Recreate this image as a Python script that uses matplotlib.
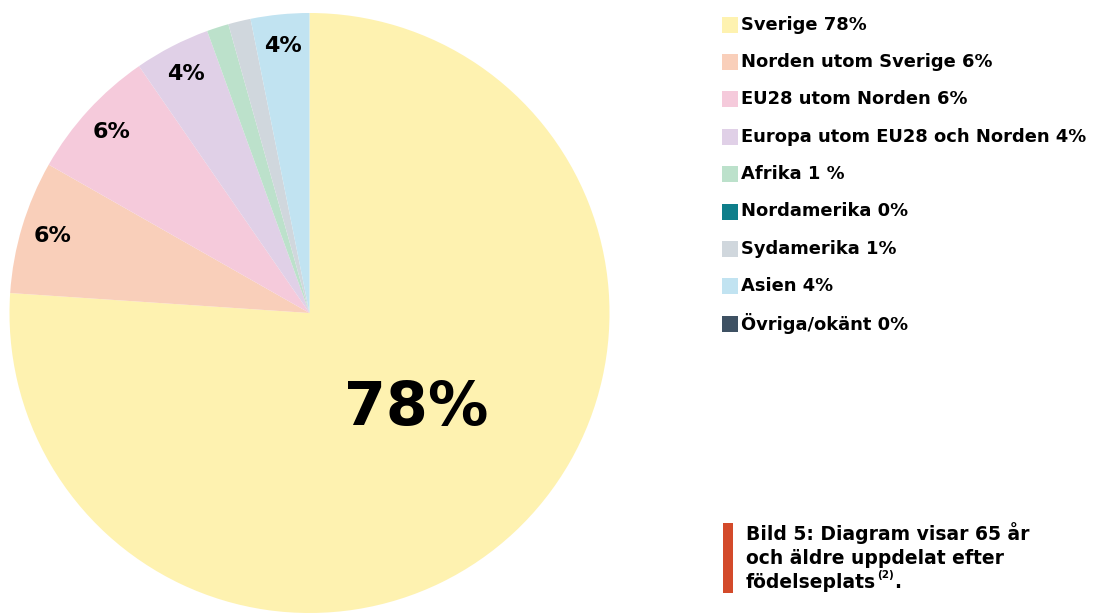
import matplotlib
matplotlib.use("Agg")
import matplotlib.pyplot as plt
import numpy as np

plt.rcParams['font.family'] = ['DejaVu Sans']

categories = ["Sverige 78%", "Norden utom Sverige 6%", "EU28 utom Norden 6%",
              "Europa utom EU28 och Norden 4%", "Afrika 1 %", "Nordamerika 0%",
              "Sydamerika 1%", "Asien 4%", "Övriga/okänt 0%"]
shares = [76.06, 7.17, 7.15, 4.08, 1.18, 0.0, 1.21, 3.15, 0.0]
slice_labels = ["78%", "6%", "6%", "4%", "", "", "", "4%", ""]
colors = ["#FEF2B0", "#F9CFBA", "#F5CADB", "#E0D0E7", "#BCE1CB",
          "#0E7E8A", "#D0D7DD", "#C1E3F1", "#3E5163"]
caption_lines = ["Bild 5: Diagram visar 65 år", "och äldre uppdelat efter", "födelseplats"]
caption_sup = "(2)"

W, H = 1096, 615
fig = plt.figure(figsize=(W / 100, H / 100), dpi=100)

# pie axes: center (309.5, 313) px, radius 300 px
cx, cy, r = 309.5, 313, 300
ax = fig.add_axes([(cx - r) / W, (H - cy - r) / H, 2 * r / W, 2 * r / H])
wedges, _ = ax.pie(shares, colors=colors, startangle=90, counterclock=False,
                   radius=1, wedgeprops=dict(linewidth=0))
ax.set_xlim(-1, 1)
ax.set_ylim(-1, 1)
ax.set_aspect('equal')
ax.axis('off')

for i, (w, lab) in enumerate(zip(wedges, slice_labels)):
    if not lab:
        continue
    mid = (w.theta1 + w.theta2) / 2
    if i == 0:
        rr, fs, mid = 0.476, 43.5, mid + 5.2
    else:
        rr, fs = 0.895, 16
    mid = np.deg2rad(mid)
    ax.text(rr * np.cos(mid), rr * np.sin(mid), lab, ha='center', va='center',
            fontsize=fs, fontweight='bold', color='black')

# legend
y0, dy = 24.5, 37.4
for i, (cat, col) in enumerate(zip(categories, colors)):
    y = y0 + i * dy
    fig.patches.append(plt.Rectangle((722 / W, 1 - (y + 8) / H), 16 / W, 16 / H,
                                     transform=fig.transFigure, color=col, linewidth=0))
    fig.text(741 / W, 1 - y / H, cat, ha='left', va='center', fontsize=12.9,
             fontweight='bold', color='black')

# caption
fig.patches.append(plt.Rectangle((723 / W, 1 - 593 / H), 10 / W, 70 / H,
                                 transform=fig.transFigure, color="#D34A2A", linewidth=0))
cap_y = [533, 558, 583]
for j, line in enumerate(caption_lines):
    t = fig.text(746 / W, 1 - cap_y[j] / H, line, ha='left', va='center', fontsize=13.5,
                 fontweight='bold', color='black')
fig.canvas.draw()
bb = t.get_window_extent()
s = fig.text(bb.x1 / W + 1 / W, 1 - (cap_y[2] - 8) / H, caption_sup, ha='left', va='center',
             fontsize=7.5, fontweight='bold', color='black')
fig.canvas.draw()
bs = s.get_window_extent()
fig.text(bs.x1 / W + 0.5 / W, 1 - cap_y[2] / H, ".", ha='left', va='center', fontsize=13.5,
         fontweight='bold', color='black')

fig.savefig("out.png", dpi=100)
